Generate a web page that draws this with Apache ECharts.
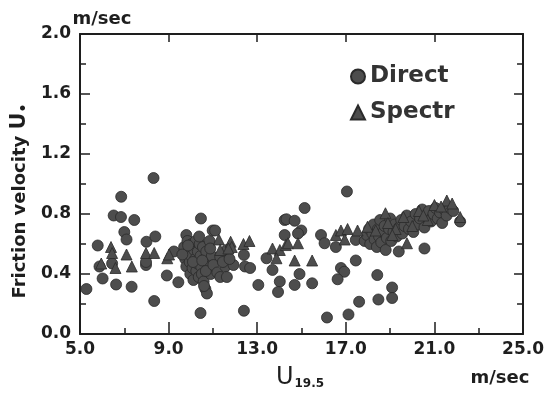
<!DOCTYPE html>
<html>
<head>
<meta charset="utf-8">
<script src="https://cdn.jsdelivr.net/npm/echarts@6/dist/echarts.min.js"></script>
<style>html,body{margin:0;padding:0;background:#fff;}#c{width:547px;height:401px;}</style>
</head>
<body>
<div id="c"></div>
<script>
// Axis ticks
const xTicks = [5, 9, 13, 17, 21, 25];
const yTicks = [0.0, 0.4, 0.8, 1.2, 1.6, 2.0];

// Direct (circles): [U19.5, U*]
const directData = [
  [5.29,0.30],[5.80,0.59],[5.88,0.45],[6.02,0.37],[6.52,0.79],[6.85,0.78],[6.86,0.915],[7.45,0.76],
  [7.00,0.68],[7.10,0.63],[6.45,0.47],[6.63,0.33],[7.33,0.315],[8.00,0.615],[8.40,0.65],[7.98,0.46],
  [7.98,0.48],[8.32,1.04],[8.35,0.22],[8.92,0.39],[9.24,0.55],[9.44,0.345],[9.80,0.66],
  [9.70,0.58],[9.75,0.50],[9.80,0.45],[9.85,0.62],[9.90,0.55],[9.95,0.48],[9.98,0.40],[10.02,0.52],
  [10.05,0.60],[10.08,0.44],[10.12,0.36],[10.15,0.56],[10.20,0.50],[10.22,0.62],[10.25,0.42],[10.30,0.47],
  [10.32,0.55],[10.36,0.38],[10.40,0.60],[10.44,0.52],[10.47,0.45],[10.50,0.40],[10.55,0.58],[10.58,0.35],
  [10.62,0.50],[10.66,0.30],[10.70,0.55],[10.73,0.27],[10.78,0.45],[10.85,0.62],[10.90,0.40],[10.95,0.52],
  [10.46,0.77],[10.99,0.69],[10.44,0.14],[10.60,0.32],[9.62,0.53],[9.88,0.59],[10.10,0.48],[10.38,0.65],
  [10.52,0.49],[10.68,0.42],[10.88,0.57],[11.02,0.46],
  [11.10,0.69],[11.20,0.41],[11.33,0.515],[11.33,0.38],[11.63,0.56],[11.56,0.45],[11.63,0.38],[11.93,0.46],
  [11.45,0.48],[11.75,0.50],[12.40,0.527],[12.45,0.45],[12.68,0.44],[13.05,0.327],[12.40,0.155],[13.42,0.505],
  [13.69,0.427],[14.02,0.35],[13.94,0.28],[14.24,0.76],[14.24,0.66],[14.32,0.765],[14.69,0.755],[15.14,0.84],
  [14.99,0.69],[14.84,0.67],[14.91,0.40],[14.69,0.327],[15.48,0.338],[15.88,0.66],[16.04,0.605],[16.55,0.58],
  [17.05,0.95],[16.78,0.44],[16.93,0.415],[16.63,0.365],[16.15,0.11],[17.12,0.13],[17.45,0.49],[17.45,0.627],
  [17.60,0.215],[18.42,0.393],[18.47,0.23],[19.09,0.31],[19.09,0.24],[19.39,0.55],[20.55,0.57],[22.16,0.75],
  [17.85,0.62],[17.95,0.66],[18.05,0.70],[18.10,0.60],[18.20,0.67],[18.25,0.73],[18.30,0.63],[18.40,0.58],
  [18.45,0.70],[18.50,0.65],[18.55,0.76],[18.60,0.61],[18.70,0.68],[18.75,0.72],[18.80,0.56],[18.85,0.64],
  [18.95,0.70],[19.00,0.77],[19.05,0.62],[19.15,0.68],[19.20,0.73],[19.30,0.65],[19.40,0.71],[19.50,0.76],
  [19.55,0.67],[19.65,0.72],[19.75,0.79],[19.85,0.70],[19.95,0.75],[20.05,0.68],[20.15,0.80],[20.25,0.73],
  [20.35,0.77],[20.45,0.83],[20.55,0.71],[20.65,0.78],[20.75,0.82],[20.85,0.75],[20.95,0.80],[21.05,0.84],
  [21.15,0.77],[21.25,0.81],[21.35,0.74],[21.45,0.83],[21.55,0.79],[21.70,0.84],[21.85,0.82]
];

// Spectr (triangles): [U19.5, U*]
const spectrData = [
  [5.96,0.47],[6.40,0.58],[6.45,0.54],[6.60,0.44],[7.10,0.53],[7.34,0.45],[7.98,0.54],[8.35,0.54],
  [8.94,0.505],[9.02,0.53],[11.27,0.63],[11.80,0.615],[11.85,0.58],[11.33,0.56],[11.70,0.57],[12.38,0.60],
  [12.65,0.62],[13.69,0.57],[14.02,0.56],[13.87,0.505],[14.29,0.593],[14.39,0.605],[14.84,0.605],[14.69,0.49],
  [15.48,0.49],[16.55,0.66],[16.78,0.69],[17.08,0.70],[16.95,0.63],[17.53,0.69],[17.98,0.715],[18.79,0.805],
  [19.76,0.605],[21.56,0.89],[22.16,0.78],
  [18.35,0.69],[18.90,0.74],[19.25,0.70],[19.60,0.78],[20.00,0.72],[20.30,0.82],[20.70,0.76],[21.00,0.86],
  [21.30,0.85],[21.80,0.87],[19.10,0.66],[20.50,0.79]
];

const FONT = 'DejaVu Sans';
const INK = '#1e1e1e';
const MARK = '#4d4d4d';

const chart = echarts.init(document.getElementById('c'), null, {renderer: 'canvas'});

const axisLineStyle = {color: INK, width: 2};
const option = {
  animation: false,
  backgroundColor: '#fff',
  grid: {left: 80, right: 20, top: 34, bottom: 67},
  legend: {
    orient: 'vertical', left: 345, top: 60, itemGap: 13,
    itemWidth: 14, itemHeight: 14,
    textStyle: {fontFamily: FONT, fontWeight: 'bold', fontSize: 23, color: '#333'},
    data: [{name: 'Direct', icon: 'circle'}, {name: 'Spectr', icon: 'triangle'}]
  },
  xAxis: [{
    type: 'value', min: xTicks[0], max: xTicks[xTicks.length - 1], interval: 4, position: 'bottom',
    axisLine: {show: true, onZero: false, lineStyle: axisLineStyle},
    axisTick: {show: true, inside: true, length: 12, lineStyle: {color: INK, width: 1.5}},
    minorTick: {show: true, splitNumber: 2, length: 6, lineStyle: {color: INK, width: 1.5}},
    splitLine: {show: false},
    axisLabel: {formatter: v => v.toFixed(1), fontFamily: FONT, fontWeight: 'bold', fontSize: 17, color: INK, margin: 7}
  }, {
    type: 'value', min: xTicks[0], max: xTicks[xTicks.length - 1], interval: 4, position: 'top',
    axisLine: {show: true, onZero: false, lineStyle: axisLineStyle},
    axisTick: {show: true, inside: true, length: 8, lineStyle: {color: INK, width: 1.5}},
    minorTick: {show: false},
    splitLine: {show: false},
    axisLabel: {show: false}
  }],
  yAxis: [{
    type: 'value', min: yTicks[0], max: yTicks[yTicks.length - 1], interval: 0.4, position: 'left',
    axisLine: {show: true, onZero: false, lineStyle: axisLineStyle},
    axisTick: {show: true, inside: true, length: 10, lineStyle: {color: INK, width: 1.5}},
    minorTick: {show: true, splitNumber: 2, length: 6, lineStyle: {color: INK, width: 1.5}},
    splitLine: {show: false},
    axisLabel: {formatter: v => v.toFixed(1), fontFamily: FONT, fontWeight: 'bold', fontSize: 17, color: INK, margin: 9}
  }, {
    type: 'value', min: yTicks[0], max: yTicks[yTicks.length - 1], interval: 0.4, position: 'right',
    axisLine: {show: true, onZero: false, lineStyle: axisLineStyle},
    axisTick: {show: true, inside: true, length: 9, lineStyle: {color: INK, width: 1.5}},
    minorTick: {show: true, splitNumber: 2, length: 6, lineStyle: {color: INK, width: 1.5}},
    splitLine: {show: false},
    axisLabel: {show: false}
  }],
  series: [{
    name: 'Direct', type: 'scatter', symbol: 'circle', symbolSize: 11,
    itemStyle: {color: MARK, borderColor: '#2a2a2a', borderWidth: 0.8, opacity: 1},
    data: directData
  }, {
    name: 'Spectr', type: 'scatter', symbol: 'triangle', symbolSize: 11,
    itemStyle: {color: MARK, borderColor: '#2a2a2a', borderWidth: 0.8, opacity: 1},
    data: spectrData
  }],
  graphic: [
    {type: 'text', x: 102, y: 19, style: {text: 'm/sec', fontFamily: FONT, fontWeight: 'bold', fontSize: 18, fill: INK, align: 'center', verticalAlign: 'middle'}},
    {type: 'text', x: 500, y: 378, style: {text: 'm/sec', fontFamily: FONT, fontWeight: 'bold', fontSize: 18, fill: INK, align: 'center', verticalAlign: 'middle'}},
    {type: 'text', x: 300, y: 378, style: {
      text: '{u|U}{s|19.5}', align: 'center', verticalAlign: 'middle',
      rich: {
        u: {fontFamily: FONT, fontSize: 24, fill: INK, verticalAlign: 'bottom'},
        s: {fontFamily: FONT, fontWeight: 'bold', fontSize: 12, fill: INK, verticalAlign: 'bottom', padding: [0, 0, 0, 1]}
      }
    }},
    {type: 'text', x: 20, y: 201, rotation: Math.PI / 2, style: {
      text: 'Friction velocity {u|U}{s|•}', align: 'center', verticalAlign: 'middle',
      fontFamily: FONT, fontWeight: 'bold', fontSize: 18, fill: INK,
      rich: {
        u: {fontFamily: FONT, fontWeight: 'bold', fontSize: 21, fill: INK},
        s: {fontFamily: FONT, fontWeight: 'bold', fontSize: 14, fill: INK, padding: [8, 0, 0, 0]}
      }
    }}
  ]
};
chart.setOption(option);
</script>
</body>
</html>
